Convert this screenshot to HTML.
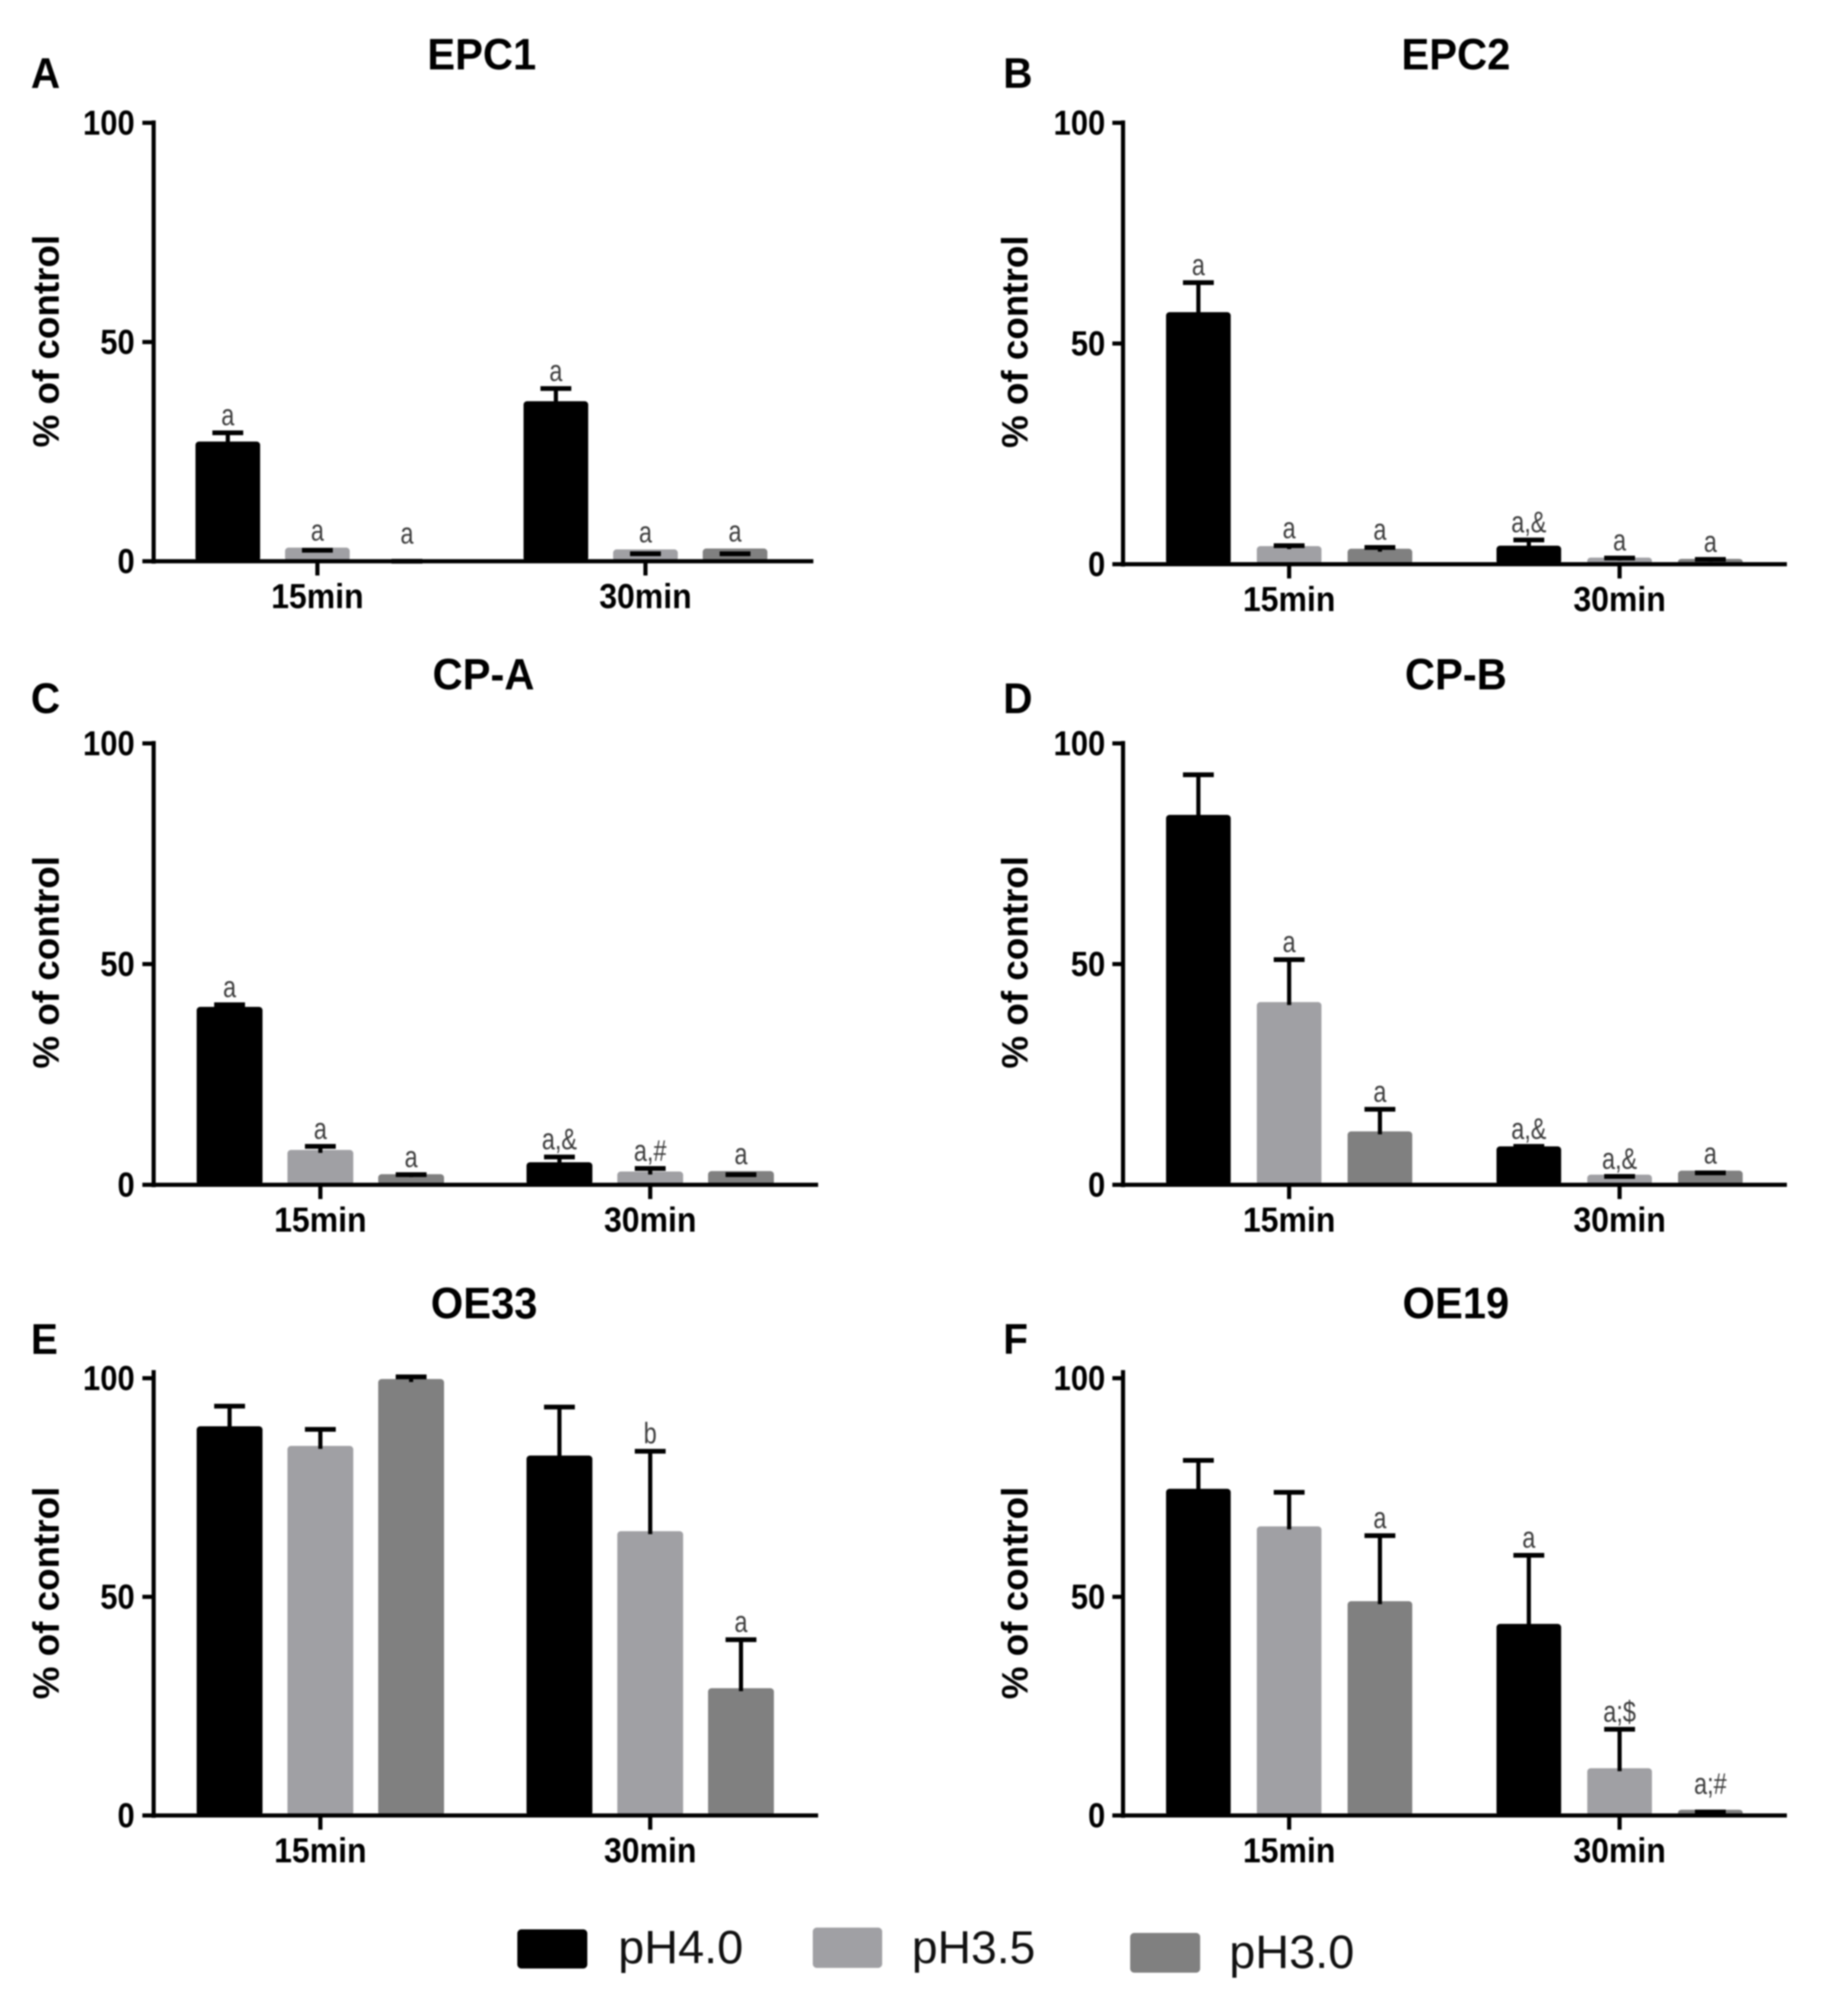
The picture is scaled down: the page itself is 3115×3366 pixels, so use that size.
<!DOCTYPE html>
<html lang="en">
<head>
<meta charset="utf-8">
<title>Cell viability by pH across six cell lines</title>
<style>
html,body{margin:0;padding:0;background:#fff}
svg{display:block;filter:blur(1.4px)}
text{font-family:"Liberation Sans",Arial,sans-serif}
</style>
</head>
<body>
<svg id="figure" xmlns="http://www.w3.org/2000/svg" width="3115" height="3366" viewBox="0 0 3115 3366">
  <rect x="0" y="0" width="3115" height="3366" fill="#ffffff"/>
  <g id="panels"></g>
  <g id="legend">
    <rect x="872" y="3252" width="118" height="66" rx="7" fill="#000000"/>
    <text x="1042" y="3309" font-size="79" fill="#111111">pH4.0</text>
    <rect x="1370" y="3249" width="117" height="68" rx="7" fill="#a0a0a4"/>
    <text x="1537" y="3309" font-size="78" fill="#111111">pH3.5</text>
    <rect x="1905" y="3258" width="118" height="67" rx="7" fill="#808080"/>
    <text x="2072" y="3317" font-size="79" fill="#111111">pH3.0</text>
  </g>
</svg>
<script>
// ---- chart data (order in each array: 15min pH4.0, pH3.5, pH3.0, 30min pH4.0, pH3.5, pH3.0) ----
const categories = ['15min', '30min'];
const seriesNames = ['pH4.0', 'pH3.5', 'pH3.0'];
const yTickValues = [0, 50, 100];

const epc1Means = [26.9, 2.7, 0, 36.1, 2.3, 2.5];
const epc1Errors = [29.3, 2.5, 0, 39.4, 1.7, 1.7];
const epc1Notes = ['a', 'a', 'a', 'a', 'a', 'a'];

const epc2Means = [56.7, 3.7, 3.1, 3.8, 1.1, 0.8];
const epc2Errors = [63.8, 4.2, 3.8, 5.5, 1.4, 1.1];
const epc2Notes = ['a', 'a', 'a', 'a,&', 'a', 'a'];

const cpaMeans = [39.9, 7.5, 2.0, 4.7, 2.6, 2.7];
const cpaErrors = [40.8, 8.7, 2.3, 6.3, 3.7, 2.3];
const cpaNotes = ['a', 'a', 'a', 'a,&', 'a,#', 'a'];

const cpbMeans = [83.4, 41.0, 11.7, 8.3, 1.9, 2.8];
const cpbErrors = [92.9, 51.0, 17.1, 8.7, 1.9, 2.7];
const cpbNotes = ['', 'a', 'a', 'a,&', 'a,&', 'a'];

const oe33Means = [88.6, 84.1, 99.4, 81.9, 64.6, 28.7];
const oe33Errors = [93.6, 88.3, 100.3, 93.4, 83.3, 40.2];
const oe33Notes = ['', '', '', '', 'b', 'a'];

const oe19Means = [74.3, 65.7, 48.6, 43.4, 10.4, 0.9];
const oe19Errors = [81.2, 73.9, 64.0, 59.5, 19.7, 0.8];
const oe19Notes = ['', '', 'a', 'a', 'a;$', 'a;#'];

// ---- layout ----
const seriesColors = ['#000000', '#a0a0a4', '#808080'];
const leftColumn = {axisX: 259, leftEnd: 240, ylabelX: 99, tickLabelX: 227, letterX: 52};
const rightColumn = {axisX: 1893, leftEnd: 1875, ylabelX: 1732, tickLabelX: 1863, letterX: 1691};

const panels = [
  {key:'epc1', title:'EPC1', letter:'A', col:leftColumn, titleX:812, titleY:117, letterY:148, top:207, zero:946, rightEnd:1371, tick0:535, tick1:1088, step:151, barW:109, yMax:100, labelY:575, means:epc1Means, errors:epc1Errors, notes:epc1Notes},
  {key:'epc2', title:'EPC2', letter:'B', col:rightColumn, titleX:2454, titleY:117, letterY:148, top:207, zero:951, rightEnd:3012, tick0:2173, tick1:2730, step:153, barW:109, yMax:100, labelY:576, means:epc2Means, errors:epc2Errors, notes:epc2Notes},
  {key:'cp-a', title:'CP-A', letter:'C', col:leftColumn, titleX:815, titleY:1162, letterY:1202, top:1253, zero:1997, rightEnd:1379, tick0:540, tick1:1096, step:153, barW:111, yMax:100, labelY:1622, means:cpaMeans, errors:cpaErrors, notes:cpaNotes},
  {key:'cp-b', title:'CP-B', letter:'D', col:rightColumn, titleX:2454, titleY:1162, letterY:1202, top:1253, zero:1997, rightEnd:3012, tick0:2173, tick1:2730, step:153, barW:109, yMax:100, labelY:1622, means:cpbMeans, errors:cpbErrors, notes:cpbNotes},
  {key:'oe33', title:'OE33', letter:'E', col:leftColumn, titleX:816, titleY:2222, letterY:2282, top:2323, zero:3060, rightEnd:1379, tick0:540, tick1:1096, step:153, barW:111, yMax:101.3, labelY:2685, means:oe33Means, errors:oe33Errors, notes:oe33Notes},
  {key:'oe19', title:'OE19', letter:'F', col:rightColumn, titleX:2454, titleY:2222, letterY:2282, top:2323, zero:3060, rightEnd:3012, tick0:2173, tick1:2730, step:153, barW:109, yMax:101.3, labelY:2685, means:oe19Means, errors:oe19Errors, notes:oe19Notes}
];

const NS = 'http://www.w3.org/2000/svg';
const root = document.getElementById('panels');

function make(parent, tag, attrs, text) {
  const el = document.createElementNS(NS, tag);
  for (const k in attrs) el.setAttribute(k, attrs[k]);
  if (text !== undefined) el.textContent = text;
  parent.appendChild(el);
  return el;
}

function yScale(p, v) {
  return p.zero - (p.zero - p.top) * v / 100;
}

function xScale(p, groupIndex, seriesIndex) {
  const tick = groupIndex === 0 ? p.tick0 : p.tick1;
  return tick + (seriesIndex - 1) * p.step;
}

function tickX(p, groupIndex) {
  return groupIndex === 0 ? p.tick0 : p.tick1;
}

function drawPanel(p) {
  const g = make(root, 'g', {});
  
  

  const letter = make(g, 'text', {x:0, y:0, 'font-size':72, 'font-weight':'bold', fill:'#000', transform:'translate(' + p.col.letterX + ' ' + p.letterY + ') scale(0.95 1)'}, p.letter);
  
  

  const title = make(g, 'text', {x:0, y:0, 'font-size':74, 'font-weight':'bold', 'text-anchor':'middle', fill:'#000', transform:'translate(' + p.titleX + ' ' + p.titleY + ') scale(0.95 1)'}, p.title);
  
  

  const yl = make(g, 'text', {x:0, y:0, 'font-size':62, 'font-weight':'bold', 'text-anchor':'middle', fill:'#000', transform:'translate(' + p.col.ylabelX + ' ' + p.labelY + ') rotate(-90)'}, '% of control');
  
  

  // bars, error bars, annotations
  p.means.forEach(function (mean, idx) {
    const groupIndex = Math.floor(idx / seriesNames.length);
    const seriesIndex = idx % seriesNames.length;
    const cx = xScale(p, groupIndex, seriesIndex);
    const yTop = yScale(p, mean);
    const border = mean > 0 ? 3 : 0;
    const bar = make(g, 'rect', {x:cx - p.barW / 2, y:yTop - border, width:p.barW, height:Math.max(0, p.zero - yTop + border), rx:6, fill:seriesColors[seriesIndex]});
    
    

    const err = p.errors[idx];
    const yErr = yScale(p, err);
    const stem = make(g, 'line', {x1:cx, x2:cx, y1:yTop + 2, y2:yErr, stroke:'#000', 'stroke-width':7});
    
    
    const cap = make(g, 'line', {x1:cx - 26, x2:cx + 26, y1:yErr, y2:yErr, stroke:'#000', 'stroke-width':8});
    
    

    const note = p.notes[idx];
    if (note) {
      const top = Math.max(mean, err);
      const gap = top < 1 ? 30 : (err < mean ? 15 : 13);
      const ny = yScale(p, top) - gap;
      const nt = make(g, 'text', {x:0, y:0, 'font-size':50, 'text-anchor':'middle', fill:'#3c3c3c', transform:'translate(' + cx + ' ' + ny + ') scale(0.79 1)'}, note);
      
      
    }
  });

  // axes
  const yAxis = make(g, 'line', {x1:p.col.axisX, x2:p.col.axisX, y1:yScale(p, p.yMax) - 4, y2:p.zero + 4, stroke:'#000', 'stroke-width':7});
  
  
  const xAxis = make(g, 'line', {x1:p.col.leftEnd, x2:p.rightEnd, y1:p.zero, y2:p.zero, stroke:'#000', 'stroke-width':7});
  
  

  yTickValues.forEach(function (v) {
    const y = yScale(p, v);
    const t = make(g, 'line', {x1:p.col.leftEnd, x2:p.col.axisX, y1:y, y2:y, stroke:'#000', 'stroke-width':7});
    
    
    const l = make(g, 'text', {x:0, y:0, 'font-size':58, 'font-weight':'bold', 'text-anchor':'end', fill:'#000', transform:'translate(' + p.col.tickLabelX + ' ' + (y + 20) + ') scale(0.9 1)'}, String(v));
    
    
  });

  categories.forEach(function (c, gi) {
    const x = tickX(p, gi);
    const t = make(g, 'line', {x1:x, x2:x, y1:p.zero, y2:p.zero + 24, stroke:'#000', 'stroke-width':7});
    
    
    const l = make(g, 'text', {x:0, y:0, 'font-size':58, 'font-weight':'bold', 'text-anchor':'middle', fill:'#000', transform:'translate(' + x + ' ' + (p.zero + 79) + ') scale(0.93 1)'}, c);
    
    
  });
}

panels.forEach(drawPanel);
</script>
</body>
</html>
